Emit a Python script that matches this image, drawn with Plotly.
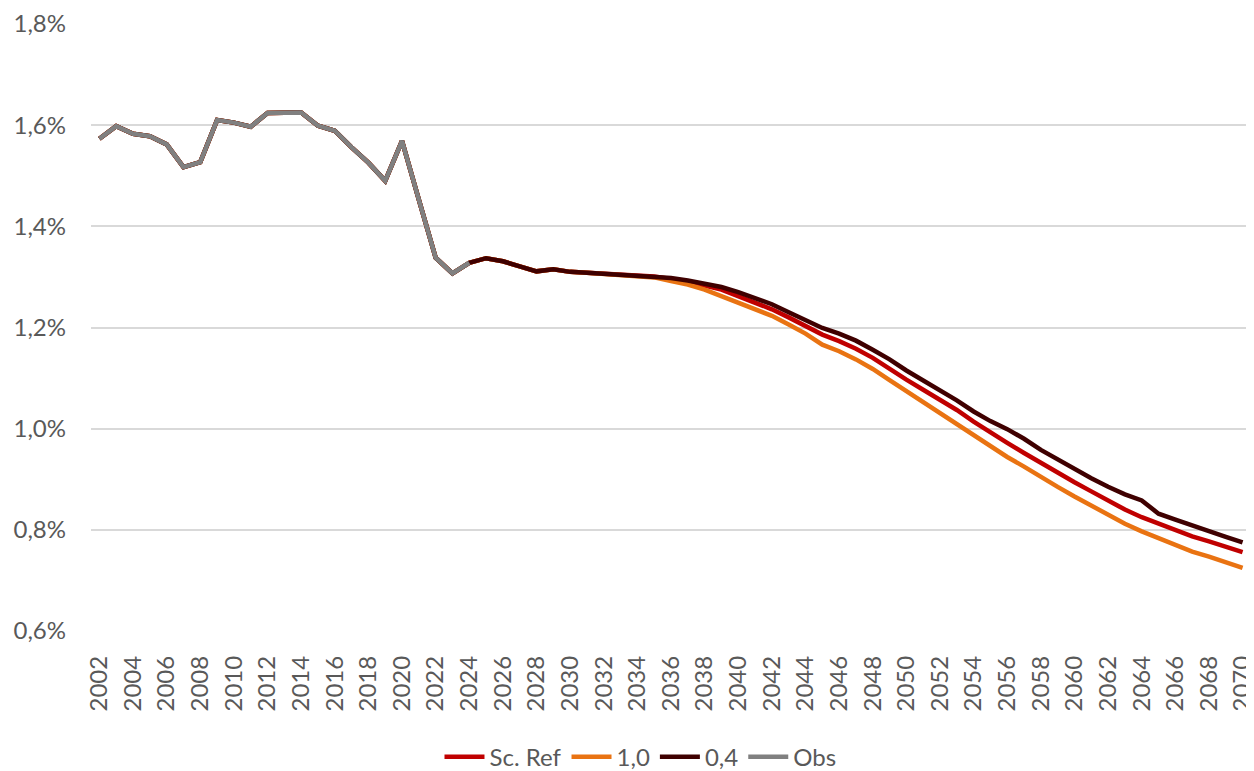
import plotly.graph_objects as go

years = list(range(2002, 2071))

# Observed values 2002-2024 (%)
obs = [1.573, 1.598, 1.583, 1.578, 1.562, 1.517, 1.527, 1.610, 1.605, 1.597,
       1.624, 1.624, 1.625, 1.599, 1.589, 1.556, 1.526, 1.490, 1.569, 1.453,
       1.338, 1.307, 1.328]

# Projections 2025-2070 (%)
proj_ref = [1.337, 1.331, 1.321, 1.311, 1.315, 1.310, 1.308, 1.306, 1.305, 1.303,
            1.301, 1.296, 1.290, 1.283, 1.275, 1.262, 1.250, 1.236, 1.220, 1.204,
            1.186, 1.173, 1.158, 1.140, 1.118, 1.097, 1.077, 1.057, 1.037, 1.014,
            0.992, 0.972, 0.952, 0.932, 0.912, 0.894, 0.876, 0.858, 0.840, 0.825,
            0.812, 0.799, 0.787, 0.777, 0.766, 0.756]
proj_10 = [1.337, 1.331, 1.321, 1.311, 1.315, 1.310, 1.308, 1.306, 1.305, 1.302,
           1.299, 1.292, 1.285, 1.275, 1.262, 1.249, 1.237, 1.223, 1.206, 1.188,
           1.166, 1.153, 1.137, 1.118, 1.096, 1.074, 1.052, 1.031, 1.010, 0.988,
           0.965, 0.944, 0.925, 0.904, 0.885, 0.866, 0.848, 0.830, 0.812, 0.797,
           0.784, 0.769, 0.757, 0.747, 0.736, 0.725]
proj_04 = [1.337, 1.331, 1.321, 1.311, 1.315, 1.310, 1.308, 1.306, 1.305, 1.304,
           1.302, 1.298, 1.293, 1.287, 1.280, 1.270, 1.259, 1.246, 1.230, 1.214,
           1.199, 1.188, 1.174, 1.156, 1.137, 1.115, 1.096, 1.076, 1.056, 1.034,
           1.015, 0.999, 0.980, 0.958, 0.939, 0.920, 0.902, 0.885, 0.870, 0.858,
           0.832, 0.820, 0.808, 0.797, 0.786, 0.775]

series_names = ["Sc. Ref", "1,0", "0,4", "Obs"]
series_colors = ["#C00000", "#E97312", "#3F0000", "#808080"]

sc_ref = obs + proj_ref
s10 = obs + proj_10
s04 = obs + proj_04

y_ticks = [0.6, 0.8, 1.0, 1.2, 1.4, 1.6, 1.8]
x_ticks = list(range(2002, 2071, 2))

font_family = "Lato"
grey_text = "#595959"

fig = go.Figure()
for name, color, yv, xv in [
    (series_names[0], series_colors[0], sc_ref, years),
    (series_names[1], series_colors[1], s10, years),
    (series_names[2], series_colors[2], s04, years),
    (series_names[3], series_colors[3], obs, years[:len(obs)]),
]:
    fig.add_trace(go.Scatter(x=xv, y=yv, name=name, mode="lines",
                             line=dict(color=color, width=4.5),
                             hoverinfo="x+y"))

# the page body adds an 8px offset, so the figure is 8px smaller each way
fig.update_layout(
    width=1246, height=763,
    margin=dict(l=83, r=3, t=16, b=140),
    paper_bgcolor="white", plot_bgcolor="white",
    separators=", ",
    font=dict(family=font_family, color=grey_text, size=22),
    showlegend=True,
    legend=dict(orientation="h", x=0.4737, xanchor="center",
                yref="container", y=0.018, yanchor="middle",
                font=dict(size=24, color=grey_text),
                itemwidth=40, traceorder="normal"),
)
fig.update_xaxes(range=[2001.5, 2070.5], tickmode="array", tickvals=x_ticks,
                 ticktext=[str(t) for t in x_ticks], tickangle=-90,
                 showgrid=False, zeroline=False, showline=False,
                 tickfont=dict(size=24, color=grey_text),
                 ticks="", ticklabelstandoff=19, automargin=False,
                 ticklabeloverflow="allow")
fig.update_yaxes(range=[0.6, 1.8], tickmode="array", tickvals=y_ticks,
                 ticktext=[f"{v:.1f}%".replace(".", ",") for v in y_ticks],
                 showgrid=True, gridcolor="#D9D9D9", gridwidth=1.5,
                 zeroline=False, showline=False,
                 tickfont=dict(size=24, color=grey_text),
                 ticks="", ticklabelstandoff=24, automargin=False)

fig.write_html("out.html")
